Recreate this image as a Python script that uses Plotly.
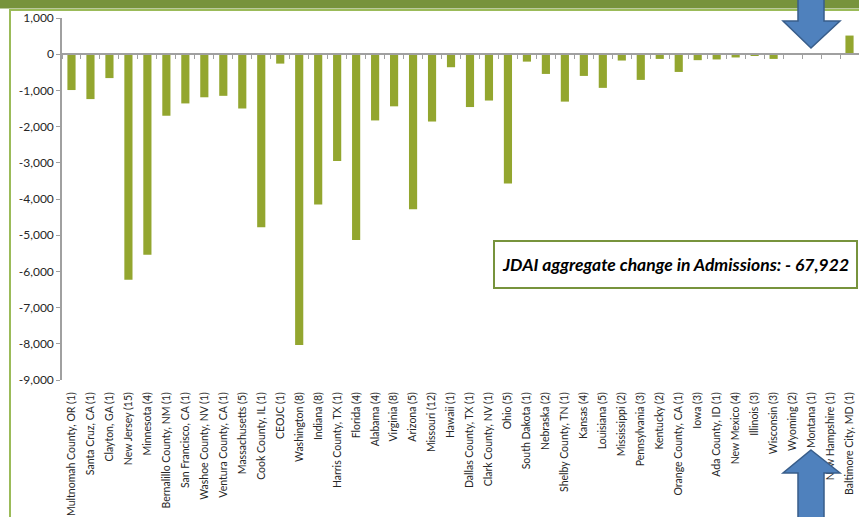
import plotly.graph_objects as go

# ---- data ----
categories = [
    "Multnomah County, OR (1)", "Santa Cruz, CA (1)", "Clayton, GA (1)", "New Jersey (15)",
    "Minnesota (4)", "Bernalillo County, NM (1)", "San Francisco, CA (1)", "Washoe County, NV (1)",
    "Ventura County, CA (1)", "Massachusetts (5)", "Cook County, IL (1)", "CEOJC (1)",
    "Washington (8)", "Indiana (8)", "Harris County, TX (1)", "Florida (4)", "Alabama (4)",
    "Virginia (8)", "Arizona (5)", "Missouri (12)", "Hawaii (1)", "Dallas County, TX (1)",
    "Clark County, NV (1)", "Ohio (5)", "South Dakota (1)", "Nebraska (2)", "Shelby County, TN (1)",
    "Kansas (4)", "Louisiana (5)", "Mississippi (2)", "Pennsylvania (3)", "Kentucky (2)",
    "Orange County, CA (1)", "Iowa (3)", "Ada County, ID (1)", "New Mexico (4)", "Illinois (3)",
    "Wisconsin (3)", "Wyoming (2)", "Montana (1)", "New Hampshire (1)", "Baltimore City, MD (1)",
]
admissions_change = [
    -990, -1240, -660, -6230,
    -5540, -1700, -1360, -1190,
    -1150, -1500, -4780, -260,
    -8030, -4150, -2950, -5130, -1830,
    -1440, -4280, -1860, -360, -1460,
    -1280, -3570, -205, -545, -1310,
    -600, -930, -175, -710, -130,
    -490, -165, -145, -90, -50,
    -130, 0, 30, 30, 515,
]
y_tick_values = [1000, 0, -1000, -2000, -3000, -4000, -5000, -6000, -7000, -8000, -9000]
y_tick_labels = [f"{v:,}" for v in y_tick_values]
summary_text = "JDAI aggregate change in Admissions: - 67,922"

# ---- layout geometry (pixels) ----
W, H = 859, 517
L, R, T, B = 62, 0, 18, 137
pw, ph = W - L - R, H - T - B


def fx(px):
    return (px - L) / pw


def fy(py):
    return (H - B - py) / ph


def path(points):
    return "M " + " L ".join(f"{fx(x):.5f},{fy(y):.5f}" for x, y in points) + " Z"


BAR = "#93A62F"
DARK_GREEN = "#77933C"
BORDER_GREEN = "#9BBB59"
AXIS_GRAY = "#A0A0A0"
FONT = "Lato, Carlito, 'Liberation Sans', sans-serif"

fig = go.Figure()
fig.add_trace(go.Bar(
    x=categories, y=admissions_change, marker=dict(color=BAR, line=dict(width=0)),
    showlegend=False, hoverinfo="x+y",
))
# helper trace so the overlay category axis (line at zero with boundary ticks) renders
fig.add_trace(go.Scatter(
    x=categories, y=[0] * len(categories), xaxis="x2", mode="none",
    showlegend=False, hoverinfo="skip",
))

yr = [y_tick_values[-1], y_tick_values[0]]
zero_pos = (0 - yr[0]) / (yr[1] - yr[0])

fig.update_layout(
    width=W, height=H,
    margin=dict(l=L, r=R, t=T, b=B, pad=0),
    paper_bgcolor="white", plot_bgcolor="white",
    font=dict(family=FONT, size=11, color="#262626"),
    bargap=0.57,
    xaxis=dict(
        type="category", categoryorder="array", categoryarray=categories,
        range=[-0.5, len(categories) - 0.5],
        tickangle=-90, showline=False, showgrid=False, zeroline=False,
        ticks="outside", ticklen=7, tickcolor="rgba(0,0,0,0)",
        tickfont=dict(family=FONT, size=10.5, color="#262626"),
        automargin=False,
    ),
    xaxis2=dict(
        type="category", categoryorder="array", categoryarray=categories,
        range=[-0.5, len(categories) - 0.5],
        overlaying="x", anchor="free", position=zero_pos, side="bottom",
        showticklabels=False, showline=True, linecolor=AXIS_GRAY, linewidth=1.5,
        ticks="outside", tickson="boundaries", ticklen=4, tickcolor=AXIS_GRAY, tickwidth=1,
        showgrid=False, zeroline=False, automargin=False,
    ),
    yaxis=dict(
        range=yr, tickvals=y_tick_values, ticktext=y_tick_labels,
        showline=True, linecolor=AXIS_GRAY, linewidth=1.5,
        ticks="outside", ticklen=4, tickcolor=AXIS_GRAY,
        showgrid=False, zeroline=False, automargin=False,
        tickfont=dict(family=FONT, size=12, color="#262626"),
    ),
    shapes=[
        # dark green band along the top
        dict(type="rect", xref="paper", yref="paper", x0=fx(-2), x1=fx(W + 2), y0=fy(8.5), y1=fy(-2),
             fillcolor=DARK_GREEN, line=dict(width=0), layer="above"),
        # chart area border (left and top)
        dict(type="path", xref="paper", yref="paper",
             path=f"M {fx(10):.5f},{fy(H + 5):.5f} L {fx(10):.5f},{fy(10):.5f} L {fx(W + 5):.5f},{fy(10):.5f}",
             line=dict(color=BORDER_GREEN, width=2), layer="above"),
        # blue down arrow at top
        dict(type="path", xref="paper", yref="paper",
             path=path([(798, -5), (824, -5), (824, 21), (840, 21), (811, 48), (783, 21), (798, 21)]),
             fillcolor="#4F81BD", line=dict(color="#385D8A", width=1.5), layer="above"),
        # blue up arrow at bottom
        dict(type="path", xref="paper", yref="paper",
             path=path([(811, 450), (840, 473), (824, 473), (824, 530), (798, 530), (798, 473), (783, 473)]),
             fillcolor="#4F81BD", line=dict(color="#385D8A", width=1.5), layer="above"),
    ],
    annotations=[
        dict(
            text=f"<b><i>{summary_text}</i></b>", xref="paper", yref="paper",
            x=fx((493 + 858) / 2), y=fy(264.5), xanchor="center", yanchor="middle",
            width=361, height=45, showarrow=False,
            font=dict(family=FONT, size=17.5, color="#000000"),
            bgcolor="white", bordercolor=DARK_GREEN, borderwidth=2, borderpad=0,
        )
    ],
)

fig.write_html(
    "out.html",
    config={"displayModeBar": False},
    post_script="document.body.style.margin='0px';document.body.style.overflow='hidden';",
)
